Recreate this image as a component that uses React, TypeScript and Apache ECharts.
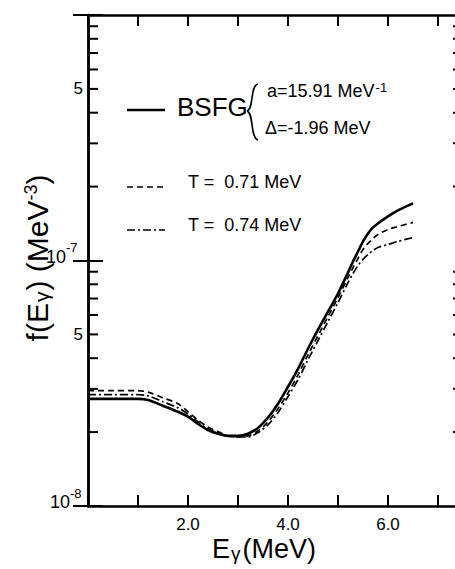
import React, { useEffect, useRef } from "react";
import * as echarts from "echarts";

// ---- data ----
const energies = [0, 0.5, 1.0, 1.2, 1.5, 1.8, 2.0, 2.2, 2.4, 2.6, 2.8, 3.0, 3.2, 3.4, 3.6, 3.8, 4.0, 4.2, 4.4, 4.6, 4.8, 5.0, 5.2, 5.3, 5.4, 5.5, 5.6, 5.7, 5.8, 6.0, 6.2, 6.5];
const bsfg = [2.73e-8, 2.73e-8, 2.73e-8, 2.70e-8, 2.56e-8, 2.42e-8, 2.31e-8, 2.16e-8, 2.04e-8, 1.97e-8, 1.93e-8, 1.93e-8, 1.97e-8, 2.08e-8, 2.29e-8, 2.61e-8, 3.06e-8, 3.62e-8, 4.37e-8, 5.23e-8, 6.19e-8, 7.34e-8, 8.93e-8, 9.91e-8, 1.088e-7, 1.196e-7, 1.289e-7, 1.364e-7, 1.416e-7, 1.512e-7, 1.600e-7, 1.709e-7];
const t071 = [2.95e-8, 2.95e-8, 2.95e-8, 2.91e-8, 2.76e-8, 2.61e-8, 2.42e-8, 2.24e-8, 2.10e-8, 2.01e-8, 1.93e-8, 1.91e-8, 1.93e-8, 2.02e-8, 2.20e-8, 2.49e-8, 2.89e-8, 3.42e-8, 4.13e-8, 4.94e-8, 5.91e-8, 7.06e-8, 8.52e-8, 9.36e-8, 1.019e-7, 1.109e-7, 1.174e-7, 1.230e-7, 1.277e-7, 1.338e-7, 1.376e-7, 1.429e-7];
const t074 = [2.84e-8, 2.84e-8, 2.84e-8, 2.81e-8, 2.66e-8, 2.51e-8, 2.37e-8, 2.20e-8, 2.06e-8, 1.99e-8, 1.93e-8, 1.91e-8, 1.91e-8, 1.99e-8, 2.14e-8, 2.40e-8, 2.79e-8, 3.27e-8, 3.94e-8, 4.72e-8, 5.64e-8, 6.74e-8, 8.13e-8, 8.85e-8, 9.54e-8, 1.010e-7, 1.058e-7, 1.099e-7, 1.130e-7, 1.162e-7, 1.196e-7, 1.241e-7];

const xMin = 0;
const xMax = 7.5;
const xTickValues = [0, 1, 2, 3, 4, 5, 6, 7];
const xTickLabels = ["", "", "2.0", "", "4.0", "", "6.0", ""];
const yMin = 1e-8;
const yMax = 1e-6;
const yMajorValues = [1e-8, 1e-7];
const yMajorBase = ["10", "10"];
const yMajorExp = ["-8", "-7"];
const yMinorValues = [2e-8, 3e-8, 4e-8, 5e-8, 6e-8, 7e-8, 8e-8, 9e-8, 2e-7, 3e-7, 4e-7, 5e-7, 6e-7, 7e-7, 8e-7, 9e-7];
const yMinorLabels = ["", "", "", "5", "", "", "", "", "", "", "", "5", "", "", "", ""];

const FONT = "Liberation Sans";

export default function App() {
  const ref = useRef<HTMLDivElement>(null);
  useEffect(() => {
    if (!ref.current) return;
    const chart = echarts.init(ref.current, null, { renderer: "svg" });
    const pairs = (ys: number[]) => energies.map((x, i) => [x, ys[i]]);
    const xLabel = (v: number) => {
      const i = xTickValues.findIndex((t) => Math.abs(t - v) < 1e-9);
      return i >= 0 ? xTickLabels[i] : "";
    };
    const axisLine = { show: true, lineStyle: { color: "#000", width: 2.5 } };
    const xCommon = {
      type: "value" as const,
      min: xMin,
      max: xMax,
      interval: 1,
      splitLine: { show: false },
      axisLine,
      axisTick: { show: true, inside: true, length: 11, lineStyle: { color: "#000", width: 2 } },
    };
    const yCommon = {
      type: "log" as const,
      min: yMin,
      max: yMax,
      logBase: 10,
      splitLine: { show: false },
      axisLine,
      axisLabel: { show: false },
      axisTick: { show: true, inside: true, length: 15, lineStyle: { color: "#000", width: 2 } },
    };
    chart.setOption({
      animation: false,
      backgroundColor: "#fff",
      grid: { left: 88, top: 15, right: 7, bottom: 63, containLabel: false },
      xAxis: [
        {
          ...xCommon,
          position: "bottom",
          axisLabel: {
            show: true,
            formatter: xLabel,
            color: "#000",
            fontFamily: FONT,
            fontSize: 17,
            margin: 10,
          },
        },
        { ...xCommon, position: "top", axisLabel: { show: false } },
      ],
      yAxis: [
        { ...yCommon, position: "left" },
        { ...yCommon, position: "right" },
      ],
      series: [
        {
          type: "line",
          name: "BSFG",
          data: pairs(bsfg),
          showSymbol: false,
          smooth: 0.3,
          lineStyle: { color: "#000", width: 2.6, type: "solid" },
          z: 5,
        },
        {
          type: "line",
          name: "T = 0.71 MeV",
          data: pairs(t071),
          showSymbol: false,
          smooth: 0.3,
          lineStyle: { color: "#000", width: 1.7, type: [6, 4] },
          z: 4,
        },
        {
          type: "line",
          name: "T = 0.74 MeV",
          data: pairs(t074),
          showSymbol: false,
          smooth: 0.3,
          lineStyle: { color: "#000", width: 1.7, type: [8, 3, 2, 3] },
          z: 4,
        },
        {
          type: "custom",
          name: "minor ticks",
          coordinateSystem: "cartesian2d",
          clip: false,
          silent: true,
          data: yMinorValues.map((v) => [xMin, v]),
          encode: { x: 0, y: 1 },
          renderItem: (params: any, api: any) => {
            const v = api.value(1);
            const pl = api.coord([xMin, v]);
            const pr = api.coord([xMax, v]);
            const children: any[] = [
              { type: "line", shape: { x1: pl[0], y1: pl[1], x2: pl[0] + 10, y2: pl[1] }, style: { stroke: "#000", lineWidth: 2 } },
              { type: "line", shape: { x1: pr[0] - 10, y1: pr[1], x2: pr[0], y2: pr[1] }, style: { stroke: "#000", lineWidth: 2 } },
            ];
            const lab = yMinorLabels[params.dataIndex];
            if (lab) {
              children.push({
                type: "text",
                x: pl[0] - 5,
                y: pl[1],
                style: { text: lab, fill: "#000", fontFamily: FONT, fontSize: 17, align: "right", verticalAlign: "middle", textAlign: "right", textVerticalAlign: "middle" },
              });
            }
            return { type: "group", children };
          },
        },
        {
          type: "custom",
          name: "major labels",
          coordinateSystem: "cartesian2d",
          clip: false,
          silent: true,
          data: yMajorValues.map((v) => [xMin, v]),
          encode: { x: 0, y: 1 },
          renderItem: (params: any, api: any) => {
            const v = api.value(1);
            const pl = api.coord([xMin, v]);
            const i = params.dataIndex;
            const dx = i === 0 ? 5 : 9;
            return {
              type: "group",
              children: [
                {
                  type: "text",
                  x: pl[0] - dx - 13,
                  y: pl[1] - 4,
                  style: { text: yMajorBase[i], fill: "#000", fontFamily: FONT, fontSize: 18, align: "right", verticalAlign: "middle", textAlign: "right", textVerticalAlign: "middle" },
                },
                {
                  type: "text",
                  x: pl[0] - dx - 13,
                  y: pl[1] - 13,
                  style: { text: yMajorExp[i], fill: "#000", fontFamily: FONT, fontSize: 13, align: "left", verticalAlign: "middle", textAlign: "left", textVerticalAlign: "middle" },
                },
              ],
            };
          },
        },
      ],
      graphic: [
        // y axis title
        {
          type: "text",
          x: 37,
          y: 258,
          rotation: Math.PI / 2,
          style: {
            text: "{m|f(E}{sub|γ}{m|) (MeV}{sup|-3}{m|)}",
            align: "center",
            verticalAlign: "middle",
            textAlign: "center",
            textVerticalAlign: "middle",
            rich: {
              m: { fontFamily: FONT, fontSize: 30, fill: "#000" },
              sub: { fontFamily: FONT, fontSize: 21, fill: "#000", verticalAlign: "bottom", padding: [8, 1, 0, 1] },
              sup: { fontFamily: FONT, fontSize: 18, fill: "#000", verticalAlign: "top", padding: [0, 0, 11, 0] },
            },
          },
        },
        // x axis title
        {
          type: "text",
          x: 264,
          y: 549,
          style: {
            text: "{m|E}{sub|γ}{m|(MeV)}",
            align: "center",
            verticalAlign: "middle",
            textAlign: "center",
            textVerticalAlign: "middle",
            rich: {
              m: { fontFamily: FONT, fontSize: 27, fill: "#000" },
              sub: { fontFamily: FONT, fontSize: 19, fill: "#000", verticalAlign: "bottom", padding: [8, 2, 0, 1] },
            },
          },
        },
        // legend: BSFG
        { type: "line", shape: { x1: 127, y1: 110, x2: 165, y2: 110 }, style: { stroke: "#000", lineWidth: 2.6 } },
        {
          type: "text",
          x: 177,
          y: 107,
          style: { text: "BSFG", fill: "#000", fontFamily: FONT, fontSize: 26, align: "left", verticalAlign: "middle", textAlign: "left", textVerticalAlign: "middle" },
        },
        // brace
        { type: "bezierCurve", shape: { x1: 258, y1: 84, cpx1: 250, cpy1: 85, cpx2: 254, cpy2: 109, x2: 247, y2: 111 }, style: { stroke: "#000", lineWidth: 1.6, fill: "none" } },
        { type: "bezierCurve", shape: { x1: 247, y1: 111, cpx1: 254, cpy1: 113, cpx2: 250, cpy2: 138, x2: 258, y2: 140 }, style: { stroke: "#000", lineWidth: 1.6, fill: "none" } },
        {
          type: "text",
          x: 267,
          y: 91,
          style: {
            text: "{m|a=15.91 MeV}{sup|-1}",
            align: "left",
            verticalAlign: "middle",
            textAlign: "left",
            textVerticalAlign: "middle",
            rich: {
              m: { fontFamily: FONT, fontSize: 18, fill: "#000" },
              sup: { fontFamily: FONT, fontSize: 13, fill: "#000", verticalAlign: "top", padding: [0, 0, 8, 1] },
            },
          },
        },
        {
          type: "text",
          x: 265,
          y: 128,
          style: { text: "Δ=-1.96 MeV", fill: "#000", fontFamily: FONT, fontSize: 18, align: "left", verticalAlign: "middle", textAlign: "left", textVerticalAlign: "middle" },
        },
        // legend: T = 0.71
        { type: "line", shape: { x1: 127, y1: 187, x2: 165, y2: 187 }, style: { stroke: "#000", lineWidth: 1.6, lineDash: [6, 4] } },
        {
          type: "text",
          x: 188,
          y: 182,
          style: { text: "T =  0.71 MeV", fill: "#000", fontFamily: FONT, fontSize: 18, align: "left", verticalAlign: "middle", textAlign: "left", textVerticalAlign: "middle" },
        },
        // legend: T = 0.74
        { type: "line", shape: { x1: 127, y1: 230, x2: 165, y2: 230 }, style: { stroke: "#000", lineWidth: 1.6, lineDash: [8, 3, 2, 3] } },
        {
          type: "text",
          x: 188,
          y: 225,
          style: { text: "T =  0.74 MeV", fill: "#000", fontFamily: FONT, fontSize: 18, align: "left", verticalAlign: "middle", textAlign: "left", textVerticalAlign: "middle" },
        },
      ],
    });
    return () => chart.dispose();
  }, []);
  return (
    <div style={{ position: "fixed", left: 0, top: 0, width: 455, height: 569, overflow: "hidden", background: "#fff" }}>
      <div ref={ref} style={{ width: 470, height: 569 }} />
    </div>
  );
}
